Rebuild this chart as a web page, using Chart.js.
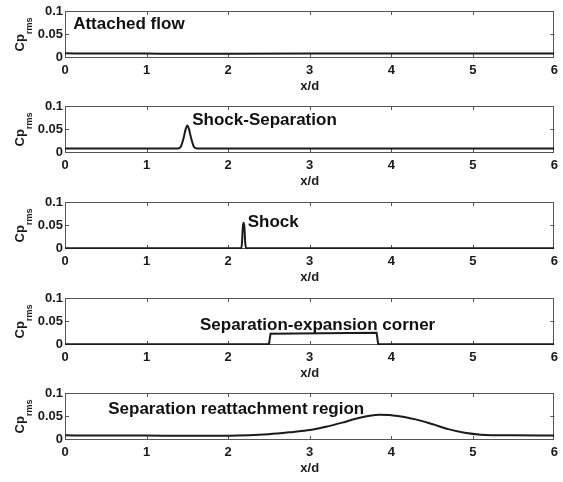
<!DOCTYPE html>
<html>
<head>
<meta charset="utf-8">
<script src="https://cdn.jsdelivr.net/npm/chart.js@4/dist/chart.umd.min.js"></script>
<style>
  html, body { margin: 0; padding: 0; background: #fff; }
  #wrap { position: relative; width: 563px; height: 482px; overflow: hidden; }
  .panel { position: absolute; left: 0; width: 563px; height: 96px; }
</style>
</head>
<body>
<div id="wrap">
  <div class="panel" style="top:0px"><canvas id="c0"></canvas></div>
  <div class="panel" style="top:95px"><canvas id="c1"></canvas></div>
  <div class="panel" style="top:191px"><canvas id="c2"></canvas></div>
  <div class="panel" style="top:287px"><canvas id="c3"></canvas></div>
  <div class="panel" style="top:382px"><canvas id="c4"></canvas></div>
</div>
<script>
// ── Data ──────────────────────────────────────────────────────────
const xTicks = [0, 1, 2, 3, 4, 5, 6];
const yTicks = [0, 0.05, 0.1];
const yTickLabels = ['0', '0.05', '0.1'];

const attachedX = [0, 0.5, 1, 1.4, 2, 3, 4, 5, 6];
const attachedY = [0.0085, 0.0083, 0.008, 0.0075, 0.0078, 0.008, 0.008, 0.008, 0.008];

const shockSepX = [0, 1.38, 1.42, 1.45, 1.48, 1.5, 1.52, 1.55, 1.58, 1.62, 6];
const shockSepY = [0.008, 0.008, 0.012, 0.028, 0.05, 0.058, 0.05, 0.028, 0.012, 0.008, 0.008];

const shockX = [0, 2.16, 2.17, 2.18, 2.19, 2.2, 2.21, 2.22, 6];
const shockY = [0, 0, 0.012, 0.045, 0.055, 0.045, 0.012, 0, 0];

const cornerX = [0, 2.5, 2.52, 3.82, 3.84, 6];
const cornerY = [0, 0, 0.023, 0.025, 0, 0];

const reattachX = [0, 0.5, 1, 1.5, 2, 2.5, 2.8, 3, 3.2, 3.4, 3.6, 3.85, 4.1, 4.3, 4.5, 4.7, 4.9, 5.1, 5.5, 6];
const reattachY = [0.0085, 0.0083, 0.008, 0.0075, 0.0078, 0.011, 0.016, 0.02, 0.027, 0.036, 0.046, 0.053, 0.05, 0.043, 0.033, 0.022, 0.014, 0.01, 0.0085, 0.008];

const panelLabels = [
  'Attached flow',
  'Shock-Separation',
  'Shock',
  'Separation-expansion corner',
  'Separation reattachment region',
];

// ── Panels ────────────────────────────────────────────────────────
const panels = [
  { xs: attachedX,  ys: attachedY,  smooth: true,  at: [0.10, 0.072] },
  { xs: shockSepX,  ys: shockSepY,  smooth: true,  at: [1.56, 0.069] },
  { xs: shockX,     ys: shockY,     smooth: true,  at: [2.24, 0.057] },
  { xs: cornerX,    ys: cornerY,    smooth: false, at: [1.655, 0.04] },
  { xs: reattachX,  ys: reattachY,  smooth: true,  at: [0.53, 0.065] },
];

const FONT = '"Liberation Sans", Arial, sans-serif';
const INK = '#1a1a1a';
const FRAME = '#555';

// frame box + inward tick marks, MATLAB style
const framePlugin = {
  id: 'frame',
  beforeDatasetsDraw(chart) {
    const { ctx, chartArea: a, scales: { x, y } } = chart;
    ctx.save();
    ctx.strokeStyle = FRAME;
    ctx.lineWidth = 1;
    ctx.strokeRect(Math.round(a.left) + 0.5, Math.round(a.top) + 0.5,
                   Math.round(a.width) - 1, Math.round(a.height) - 1);
    ctx.beginPath();
    x.ticks.forEach(t => {
      if (t.value <= x.min || t.value >= x.max) return;
      const px = Math.round(x.getPixelForValue(t.value)) + 0.5;
      ctx.moveTo(px, a.top); ctx.lineTo(px, a.top + 4);
      ctx.moveTo(px, a.bottom); ctx.lineTo(px, a.bottom - 4);
    });
    y.ticks.forEach(t => {
      if (t.value <= 0 || t.value >= 0.1) return;
      const py = Math.round(y.getPixelForValue(t.value)) + 0.5;
      ctx.moveTo(a.left, py); ctx.lineTo(a.left + 4, py);
      ctx.moveTo(a.right, py); ctx.lineTo(a.right - 4, py);
    });
    ctx.stroke();
    ctx.restore();
  },
  afterDraw(chart) {
    const { ctx, chartArea: a, scales: { x, y } } = chart;
    const opt = chart.options.plugins.frame;
    // panel caption
    ctx.save();
    ctx.fillStyle = '#111';
    ctx.font = 'bold 17px ' + FONT;
    ctx.textBaseline = 'middle';
    ctx.textAlign = 'left';
    ctx.fillText(opt.label, x.getPixelForValue(opt.at[0]), y.getPixelForValue(opt.at[1]));
    ctx.restore();

    // y title: Cp with "rms" subscript, rotated
    ctx.save();
    ctx.fillStyle = INK;
    const cy = (a.top + a.bottom) / 2;
    ctx.font = 'bold 13px ' + FONT;
    const wCp = ctx.measureText('Cp').width;
    ctx.font = 'bold 9px ' + FONT;
    const wSub = ctx.measureText('rms').width;
    const total = wCp + wSub;
    ctx.translate(24, cy + total / 2);
    ctx.rotate(-Math.PI / 2);
    ctx.textBaseline = 'alphabetic';
    ctx.textAlign = 'left';
    ctx.font = 'bold 13px ' + FONT;
    ctx.fillText('Cp', 0, 0);
    ctx.font = 'bold 9px ' + FONT;
    ctx.fillText('rms', wCp, 8);
    ctx.restore();
  },
};

function buildPanel(i) {
  const p = panels[i];
  return new Chart(document.getElementById('c' + i), {
    type: 'line',
    data: {
      datasets: [{
        data: p.xs.map((v, k) => ({ x: v, y: p.ys[k] })),
        borderColor: INK,
        borderWidth: 2,
        pointRadius: 0,
        cubicInterpolationMode: p.smooth ? 'monotone' : 'default',
        tension: 0,
        fill: false,
      }],
    },
    options: {
      responsive: true,
      maintainAspectRatio: false,
      animation: false,
      events: [],
      layout: { padding: { top: 11, right: 8, left: 0, bottom: 0 } },
      plugins: {
        legend: { display: false },
        tooltip: { enabled: false },
        frame: { label: panelLabels[i], at: p.at },
      },
      scales: {
        x: {
          type: 'linear',
          min: 0,
          max: 6,
          afterBuildTicks: s => { s.ticks = xTicks.map(v => ({ value: v })); },
          afterFit: s => { s.height = 38; },
          grid: { display: false, drawTicks: false },
          border: { display: false },
          ticks: {
            color: INK, padding: 5,
            font: { family: FONT, size: 13, weight: 'bold' },
            maxRotation: 0,
          },
          title: {
            display: true, text: 'x/d', color: INK,
            font: { family: FONT, size: 13, weight: 'bold' },
            padding: { top: 0, bottom: 2 },
          },
        },
        y: {
          min: -0.0015,
          max: 0.1,
          afterBuildTicks: s => { s.ticks = yTicks.map(v => ({ value: v })); },
          afterFit: s => { s.width = 65; },
          grid: { display: false, drawTicks: false },
          border: { display: false },
          ticks: {
            color: INK, padding: 2,
            font: { family: FONT, size: 13, weight: 'bold' },
            callback: v => yTickLabels[yTicks.indexOf(v)] ?? '',
          },
        },
      },
    },
    plugins: [framePlugin],
  });
}

for (let i = 0; i < panels.length; i++) buildPanel(i);
</script>
</body>
</html>
